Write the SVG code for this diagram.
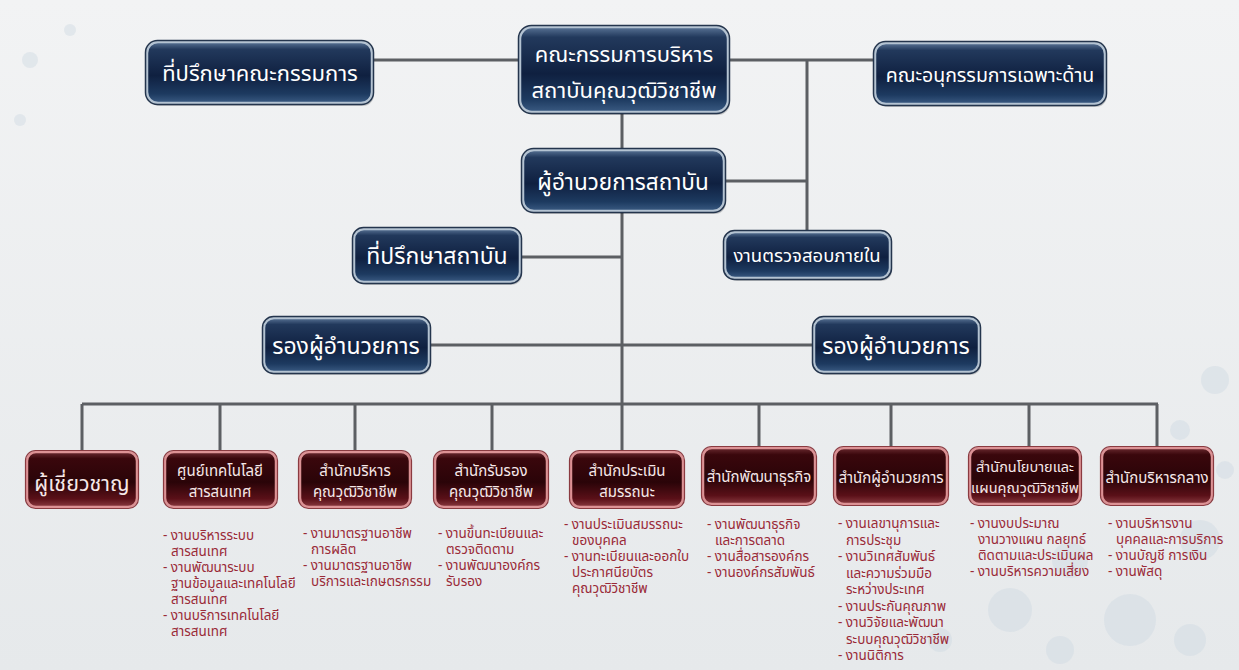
<svg xmlns="http://www.w3.org/2000/svg" width="1239" height="670" viewBox="0 0 1239 670">
<defs>
<linearGradient id="bg" x1="0" y1="0" x2="0" y2="1"><stop offset="0" stop-color="#f2f3f4"/><stop offset="1" stop-color="#e6e9eb"/></linearGradient>
<linearGradient id="blueG" x1="0" y1="0" x2="0" y2="1"><stop offset="0" stop-color="#5a7496"/><stop offset="0.12" stop-color="#22395c"/><stop offset="0.55" stop-color="#0f2040"/><stop offset="0.85" stop-color="#1d3a60"/><stop offset="1" stop-color="#3a5a82"/></linearGradient>
<linearGradient id="redG" x1="0" y1="0" x2="0" y2="1"><stop offset="0" stop-color="#6a2a30"/><stop offset="0.12" stop-color="#3a070c"/><stop offset="0.55" stop-color="#2a0408"/><stop offset="0.85" stop-color="#5a1018"/><stop offset="1" stop-color="#8a3a40"/></linearGradient>
<style>
.b{fill:url(#blueG);stroke:#b4c3d2;stroke-width:2.5}
.bo{fill:none;stroke:#24354d;stroke-width:1.5}
.r{fill:url(#redG);stroke:#dc9295;stroke-width:2.5}
.ro{fill:none;stroke:#8a3a40;stroke-width:1.2}
.sh{fill:#000;opacity:0.18}
.bt{font-family:"Noto Sans Thai","Noto Sans",sans-serif;fill:#ffffff;text-anchor:middle}
.rt{font-family:"Noto Sans Thai","Noto Sans",sans-serif;fill:#f6e8e8;text-anchor:middle;font-size:15px}
.lt{font-family:"Noto Sans Thai","Noto Sans",sans-serif;fill:#9a2a38;font-size:13.5px}
.c{fill:none;stroke:#5c5f63;stroke-width:3}
.dot{fill:#cfd9e2;opacity:0.45}
</style>
</defs>
<rect width="1239" height="670" fill="url(#bg)"/>
<g id="decor">
<circle class="dot" cx="1010" cy="610" r="22"/><circle class="dot" cx="1070" cy="560" r="18"/><circle class="dot" cx="1130" cy="620" r="26"/><circle class="dot" cx="1200" cy="540" r="20"/><circle class="dot" cx="1190" cy="640" r="16"/><circle class="dot" cx="1060" cy="650" r="14"/><circle class="dot" cx="940" cy="640" r="12"/><circle class="dot" cx="1215" cy="380" r="14"/><circle class="dot" cx="1180" cy="430" r="10"/><circle class="dot" cx="1225" cy="470" r="9"/>
<circle class="dot" cx="30" cy="60" r="8"/><circle class="dot" cx="70" cy="30" r="6"/><circle class="dot" cx="20" cy="120" r="6"/>
</g>
<g id="connectors">
<path class="c" d="M372,60 H520 M728,60 H875 M807,60 V232 M622,112 V150 M724,181 H807 M520,257 H622 M622,211 V452 M429,345 H814 M82,404 H1158 M82,404 V452 M220,404 V452 M355,404 V452 M492,404 V451 M759,404 V448 M891,404 V448 M1029,404 V448 M1157,404 V448"/>
</g>
<g id="n-board-advisor"><rect class="sh" x="149" y="45" width="225" height="61" rx="11"/><rect class="b" x="147" y="42" width="225" height="61" rx="11"/><rect class="bo" x="145.5" y="40.5" width="228" height="64" rx="12"/><text class="bt" x="260" y="81" font-size="22">ที่ปรึกษาคณะกรรมการ</text></g>
<g id="n-board"><rect class="sh" x="522" y="30" width="208" height="85" rx="12"/><rect class="b" x="520" y="27" width="208" height="85" rx="12"/><rect class="bo" x="518.5" y="25.5" width="211" height="88" rx="13"/><text class="bt" x="624" y="62" font-size="22">คณะกรรมการบริหาร</text><text class="bt" x="624" y="98" font-size="22">สถาบันคุณวุฒิวิชาชีพ</text></g>
<g id="n-subcommittee"><rect class="sh" x="877" y="46" width="230" height="61" rx="11"/><rect class="b" x="875" y="43" width="230" height="61" rx="11"/><rect class="bo" x="873.5" y="41.5" width="233" height="64" rx="12"/><text class="bt" x="990" y="82" font-size="19.5">คณะอนุกรรมการเฉพาะด้าน</text></g>
<g id="n-director"><rect class="sh" x="525" y="153" width="201" height="61" rx="11"/><rect class="b" x="523" y="150" width="201" height="61" rx="11"/><rect class="bo" x="521.5" y="148.5" width="204" height="64" rx="12"/><text class="bt" x="623" y="190" font-size="22.5">ผู้อำนวยการสถาบัน</text></g>
<g id="n-inst-advisor"><rect class="sh" x="356" y="232" width="166" height="53" rx="10"/><rect class="b" x="354" y="229" width="166" height="53" rx="10"/><rect class="bo" x="352.5" y="227.5" width="169" height="56" rx="11"/><text class="bt" x="437" y="264" font-size="23">ที่ปรึกษาสถาบัน</text></g>
<g id="n-audit"><rect class="sh" x="727" y="235" width="165" height="46" rx="10"/><rect class="b" x="725" y="232" width="165" height="46" rx="10"/><rect class="bo" x="723.5" y="230.5" width="168" height="49" rx="11"/><text class="bt" x="807" y="262" font-size="18.5">งานตรวจสอบภายใน</text></g>
<g id="n-deputy-l"><rect class="sh" x="266" y="321" width="165" height="54" rx="10"/><rect class="b" x="264" y="318" width="165" height="54" rx="10"/><rect class="bo" x="262.5" y="316.5" width="168" height="57" rx="11"/><text class="bt" x="346" y="354" font-size="23">รองผู้อำนวยการ</text></g>
<g id="n-deputy-r"><rect class="sh" x="816" y="321" width="165" height="54" rx="10"/><rect class="b" x="814" y="318" width="165" height="54" rx="10"/><rect class="bo" x="812.5" y="316.5" width="168" height="57" rx="11"/><text class="bt" x="896" y="354" font-size="23">รองผู้อำนวยการ</text></g>
<g id="n-expert"><rect class="r" x="27" y="452" width="110" height="55" rx="9"/><rect class="ro" x="25.5" y="450.5" width="113" height="58" rx="10"/><text class="rt" x="82" y="491" style="font-size:21.5px">ผู้เชี่ยวชาญ</text></g>
<g id="n-ict"><rect class="r" x="165" y="452" width="111" height="55" rx="9"/><rect class="ro" x="163.5" y="450.5" width="114" height="58" rx="10"/><text class="rt" x="220" y="476">ศูนย์เทคโนโลยี</text><text class="rt" x="220" y="497">สารสนเทศ</text></g>
<g id="n-qual-admin"><rect class="r" x="300" y="452" width="110" height="55" rx="9"/><rect class="ro" x="298.5" y="450.5" width="113" height="58" rx="10"/><text class="rt" x="355" y="476">สำนักบริหาร</text><text class="rt" x="355" y="497">คุณวุฒิวิชาชีพ</text></g>
<g id="n-accredit"><rect class="r" x="435" y="452" width="112" height="55" rx="9"/><rect class="ro" x="433.5" y="450.5" width="115" height="58" rx="10"/><text class="rt" x="491" y="476">สำนักรับรอง</text><text class="rt" x="491" y="497">คุณวุฒิวิชาชีพ</text></g>
<g id="n-assess"><rect class="r" x="571" y="452" width="112" height="55" rx="9"/><rect class="ro" x="569.5" y="450.5" width="115" height="58" rx="10"/><text class="rt" x="627" y="476">สำนักประเมิน</text><text class="rt" x="627" y="497">สมรรถนะ</text></g>
<g id="n-business"><rect class="r" x="703" y="448" width="112" height="56" rx="9"/><rect class="ro" x="701.5" y="446.5" width="115" height="59" rx="10"/><text class="rt" x="759" y="482">สำนักพัฒนาธุรกิจ</text></g>
<g id="n-dir-office"><rect class="r" x="835" y="448" width="112" height="56" rx="9"/><rect class="ro" x="833.5" y="446.5" width="115" height="59" rx="10"/><text class="rt" x="891" y="483">สำนักผู้อำนวยการ</text></g>
<g id="n-policy"><rect class="r" x="970" y="448" width="110" height="56" rx="9"/><rect class="ro" x="968.5" y="446.5" width="113" height="59" rx="10"/><text class="rt" x="1025" y="472" style="font-size:14.5px">สำนักนโยบายและ</text><text class="rt" x="1025" y="493" style="font-size:14.5px">แผนคุณวุฒิวิชาชีพ</text></g>
<g id="n-central"><rect class="r" x="1102" y="448" width="110" height="56" rx="9"/><rect class="ro" x="1100.5" y="446.5" width="113" height="59" rx="10"/><text class="rt" x="1157" y="483">สำนักบริหารกลาง</text></g>
<g id="lists">
<text class="lt" y="540"><tspan x="163">- งานบริหารระบบ</tspan><tspan x="171" dy="16">สารสนเทศ</tspan><tspan x="163" dy="16">- งานพัฒนาระบบ</tspan><tspan x="171" dy="16">ฐานข้อมูลและเทคโนโลยี</tspan><tspan x="171" dy="16">สารสนเทศ</tspan><tspan x="163" dy="16">- งานบริการเทคโนโลยี</tspan><tspan x="171" dy="16">สารสนเทศ</tspan></text>
<text class="lt" y="538"><tspan x="303">- งานมาตรฐานอาชีพ</tspan><tspan x="311" dy="16">การผลิต</tspan><tspan x="303" dy="16">- งานมาตรฐานอาชีพ</tspan><tspan x="311" dy="16">บริการและเกษตรกรรม</tspan></text>
<text class="lt" y="538"><tspan x="438">- งานขึ้นทะเบียนและ</tspan><tspan x="446" dy="16">ตรวจติดตาม</tspan><tspan x="438" dy="16">- งานพัฒนาองค์กร</tspan><tspan x="446" dy="16">รับรอง</tspan></text>
<text class="lt" y="529"><tspan x="564">- งานประเมินสมรรถนะ</tspan><tspan x="572" dy="16">ของบุคคล</tspan><tspan x="564" dy="16">- งานทะเบียนและออกใบ</tspan><tspan x="572" dy="16">ประกาศนียบัตร</tspan><tspan x="572" dy="16">คุณวุฒิวิชาชีพ</tspan></text>
<text class="lt" y="529"><tspan x="707">- งานพัฒนาธุรกิจ</tspan><tspan x="715" dy="16">และการตลาด</tspan><tspan x="707" dy="16">- งานสื่อสารองค์กร</tspan><tspan x="707" dy="16">- งานองค์กรสัมพันธ์</tspan></text>
<text class="lt" y="528"><tspan x="838">- งานเลขานุการและ</tspan><tspan x="846" dy="16.5">การประชุม</tspan><tspan x="838" dy="16.5">- งานวิเทศสัมพันธ์</tspan><tspan x="846" dy="16.5">และความร่วมมือ</tspan><tspan x="846" dy="16.5">ระหว่างประเทศ</tspan><tspan x="838" dy="16.5">- งานประกันคุณภาพ</tspan><tspan x="838" dy="16.5">- งานวิจัยและพัฒนา</tspan><tspan x="846" dy="16.5">ระบบคุณวุฒิวิชาชีพ</tspan><tspan x="838" dy="16.5">- งานนิติการ</tspan></text>
<text class="lt" y="528"><tspan x="970">- งานงบประมาณ</tspan><tspan x="978" dy="16">งานวางแผน กลยุทธ์</tspan><tspan x="978" dy="16">ติดตามและประเมินผล</tspan><tspan x="970" dy="16">- งานบริหารความเสี่ยง</tspan></text>
<text class="lt" y="528"><tspan x="1108">- งานบริหารงาน</tspan><tspan x="1116" dy="16">บุคคลและการบริการ</tspan><tspan x="1108" dy="16">- งานบัญชี การเงิน</tspan><tspan x="1108" dy="16">- งานพัสดุ</tspan></text>
</g>
</svg>
